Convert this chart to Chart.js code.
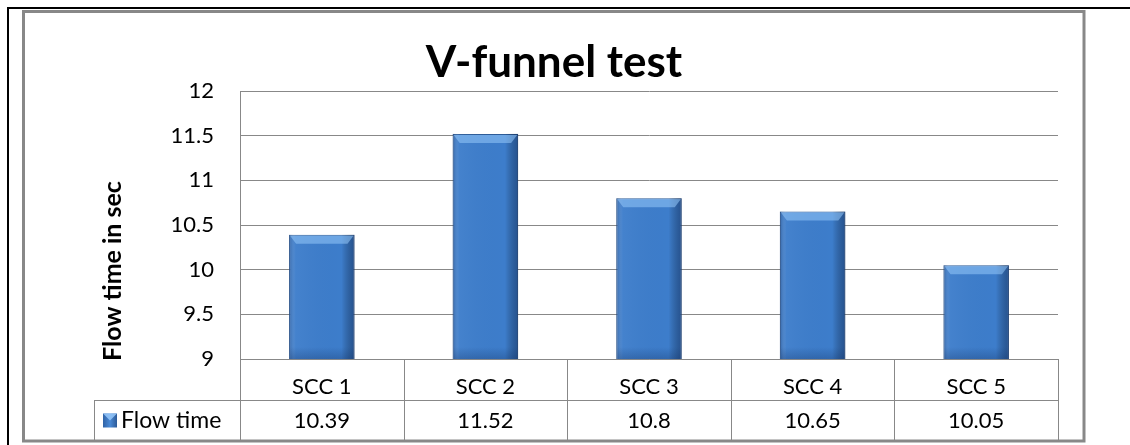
<!DOCTYPE html>
<html>
<head>
<meta charset="utf-8">
<script src="https://cdn.jsdelivr.net/npm/chart.js@4/dist/chart.umd.min.js"></script>
<style>
  html, body { margin: 0; padding: 0; background: #fff; }
  #wrap { width: 1130px; height: 445px; }
</style>
</head>
<body>
<div id="wrap"><canvas id="chart" width="1130" height="445"></canvas></div>
<script>
var chartTitle = 'V-funnel test';
var yTitle = 'Flow time in sec';
var seriesName = 'Flow time';
var categories = ['SCC 1', 'SCC 2', 'SCC 3', 'SCC 4', 'SCC 5'];
var flowTime = [10.39, 11.52, 10.8, 10.65, 10.05];
var yMin = 9, yMax = 12, yStep = 0.5;

var gridColor = '#888888';
var barColor = '#3d7dcb';
var tableLeft = 94;   // left edge of the legend cell
var rowHeight = 41;
var labelFont = '22px Lato';

// frame, title, axis title and the data table under the plot
var decorations = {
    id: 'decorations',
    beforeDraw: function (chart) {
        var ctx = chart.ctx;
        ctx.save();
        ctx.fillStyle = '#fff';
        ctx.fillRect(0, 0, chart.width, chart.height);
        ctx.restore();
    },
    afterDraw: function (chart) {
        var ctx = chart.ctx;
        var ca = chart.chartArea;
        var xs = chart.scales.x;
        var n = categories.length;
        var row2 = ca.bottom + rowHeight;
        var bottom = ca.bottom + rowHeight * 2;
        ctx.save();

        // table lines
        ctx.strokeStyle = gridColor;
        ctx.lineWidth = 1;
        ctx.beginPath();
        ctx.moveTo(tableLeft, row2 + 0.5);
        ctx.lineTo(ca.right, row2 + 0.5);
        ctx.moveTo(tableLeft + 0.5, row2);
        ctx.lineTo(tableLeft + 0.5, bottom);
        for (var i = 0; i <= n; i++) {
            var x = Math.round(ca.left + i * (ca.right - ca.left) / n) + 0.5;
            ctx.moveTo(x, ca.bottom);
            ctx.lineTo(x, bottom);
        }
        ctx.stroke();

        // values row
        ctx.fillStyle = '#000';
        ctx.font = labelFont;
        ctx.textAlign = 'center';
        ctx.textBaseline = 'middle';
        flowTime.forEach(function (v, i) {
            ctx.fillText(String(v), xs.getPixelForValue(i), row2 + rowHeight / 2);
        });

        // legend cell
        var my = row2 + rowHeight / 2 - 7;
        var mg = ctx.createLinearGradient(103, 0, 117, 0);
        mg.addColorStop(0, '#2f62a6');
        mg.addColorStop(0.5, '#4a8ad6');
        mg.addColorStop(1, '#2c5a98');
        ctx.fillStyle = mg;
        ctx.fillRect(103, my, 14, 14);
        ctx.fillStyle = 'rgba(150,200,250,0.85)';
        ctx.beginPath();
        ctx.moveTo(103, my);
        ctx.lineTo(117, my);
        ctx.lineTo(110, my + 7);
        ctx.closePath();
        ctx.fill();
        ctx.fillStyle = '#000';
        ctx.textAlign = 'left';
        ctx.font = '23px Lato';
        ctx.fillText(seriesName, 121, row2 + rowHeight / 2);

        // chart title
        ctx.font = 'bold 44px Lato';
        ctx.textAlign = 'center';
        ctx.textBaseline = 'alphabetic';
        ctx.fillText(chartTitle, 554, 77);

        // y axis title
        ctx.translate(113, 271);
        ctx.rotate(-Math.PI / 2);
        ctx.font = 'bold 25px Lato';
        ctx.textBaseline = 'middle';
        ctx.fillText(yTitle, 0, 0);
        ctx.setTransform(1, 0, 0, 1, 0, 0);

        // outer frames
        ctx.strokeStyle = gridColor;
        ctx.lineWidth = 3;
        ctx.strokeRect(23.5, 11.5, 1084 - 23.5, 441 - 11.5);
        ctx.fillStyle = '#000';
        ctx.fillRect(7, 7, chart.width - 7, 2);
        ctx.fillRect(7, 7, 2, chart.height - 7);
        ctx.restore();
    }
};

// bevel shading on the bars, placed from the bar elements
var barShading = {
    id: 'barShading',
    afterDatasetsDraw: function (chart) {
        var ctx = chart.ctx;
        var ca = chart.chartArea;
        var meta = chart.getDatasetMeta(0);
        ctx.save();
        ctx.beginPath();
        ctx.rect(ca.left, ca.top, ca.right - ca.left, ca.bottom - ca.top);
        ctx.clip();
        meta.data.forEach(function (bar) {
            var p = bar.getProps(['x', 'y', 'base', 'width'], true);
            var l = p.x - p.width / 2, r = p.x + p.width / 2, t = p.y;
            var b = Math.min(p.base, ca.bottom);
            var g = ctx.createLinearGradient(l, 0, r, 0);
            g.addColorStop(0, 'rgba(20,50,100,0.35)');
            g.addColorStop(0.1, 'rgba(255,255,255,0.04)');
            g.addColorStop(0.8, 'rgba(0,0,0,0)');
            g.addColorStop(1, 'rgba(10,30,70,0.45)');
            ctx.fillStyle = g;
            ctx.fillRect(l, t, r - l, b - t);
            ctx.fillStyle = 'rgba(150,200,250,0.55)';
            ctx.beginPath();
            ctx.moveTo(l + 1, t + 1);
            ctx.lineTo(r - 1, t + 1);
            ctx.lineTo(r - 7, t + 9);
            ctx.lineTo(l + 7, t + 9);
            ctx.closePath();
            ctx.fill();
            var bg = ctx.createLinearGradient(0, b - 12, 0, b);
            bg.addColorStop(0, 'rgba(20,50,100,0)');
            bg.addColorStop(1, 'rgba(20,50,100,0.3)');
            ctx.fillStyle = bg;
            ctx.fillRect(l + 1, b - 12, r - l - 2, 12);
        });
        ctx.restore();
    }
};

new Chart(document.getElementById('chart'), {
    type: 'bar',
    data: {
        labels: categories,
        datasets: [{
            label: seriesName,
            data: flowTime,
            backgroundColor: barColor,
            borderColor: '#2d5c98',
            borderWidth: 1,
            categoryPercentage: 1,
            barPercentage: 0.4
        }]
    },
    options: {
        responsive: false,
        animation: false,
        devicePixelRatio: 1,
        layout: { padding: { left: tableLeft, right: 72, top: 91, bottom: 4 } },
        plugins: {
            legend: { display: false },
            title: { display: false },
            tooltip: { enabled: false }
        },
        scales: {
            x: {
                grid: { display: false },
                border: { display: true, color: gridColor },
                ticks: { color: '#000', font: { family: 'Lato', size: 22 }, padding: 7, maxRotation: 0 },
                afterFit: function (scale) { scale.height = rowHeight * 2; }
            },
            y: {
                min: yMin,
                max: yMax,
                ticks: {
                    stepSize: yStep, color: '#000', font: { family: 'Lato', size: 22 }, padding: 26,
                    callback: function (v) { return String(v); }
                },
                grid: { color: gridColor, drawTicks: false },
                border: { color: gridColor },
                afterFit: function (scale) { scale.width = 240 - tableLeft; }
            }
        }
    },
    plugins: [decorations, barShading]
});
</script>
</body>
</html>
